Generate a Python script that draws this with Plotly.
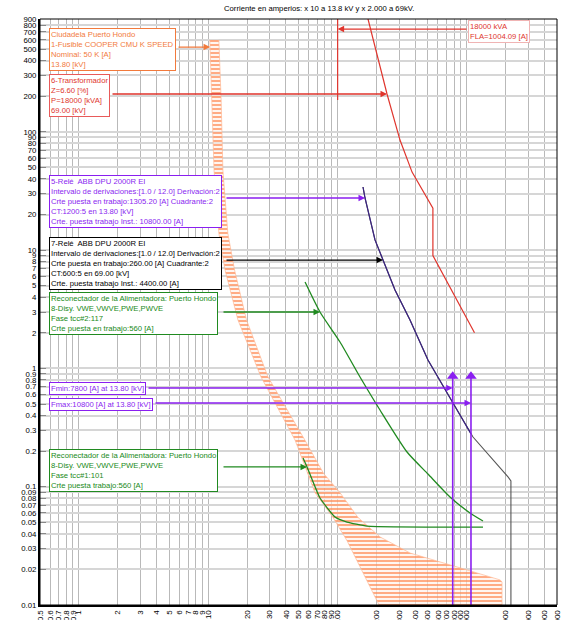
import numpy as np
import plotly.graph_objects as go

# ---- axis ticks -------------------------------------------------------
x_tick_vals = [0.5, 0.6, 0.7, 0.8, 0.9, 1, 2, 3, 4, 5, 6, 7, 8, 9,
               10, 20, 30, 40, 50, 60, 70, 80, 90,
               100, 200, 300, 400, 500, 600, 700, 800, 900,
               1000, 2000, 3000, 4000, 5000]
x_tick_text = ["0.5", "0.6", "0.7", "0.8", "0.9", "1", "2", "3", "4", "5", "6", "7", "8", "9",
               "10", "20", "30", "40", "50", "60", "70", "80", "90",
               "100", "200", "300", "400", "500", "600", "700", "800", "900",
               "1000", "2000", "3000", "4000", "5000"]
y_tick_vals = [0.01, 0.02, 0.03, 0.04, 0.05, 0.06, 0.07, 0.08, 0.09,
               0.1, 0.2, 0.3, 0.4, 0.5, 0.6, 0.7, 0.8, 0.9,
               1, 2, 3, 4, 5, 6, 7, 8, 9,
               10, 20, 30, 40, 50, 60, 70, 80, 90,
               100, 200, 300, 400, 500, 600, 700, 800, 900]
y_tick_text = ["0.01", "0.02", "0.03", "0.04", "0.05", "0.06", "0.07", "0.08", "0.09",
               "0.1", "0.2", "0.3", "0.4", "0.5", "0.6", "0.7", "0.8", "0.9",
               "1", "2", "3", "4", "5", "6", "7", "8", "9",
               "10", "20", "30", "40", "50", "60", "70", "80", "90",
               "100", "200", "300", "400", "500", "600", "700", "800", "900"]

# ---- curves (current in scaled amperes, time in seconds) --------------
transformer_i = [168, 172.5, 242, 305, 378, 520, 548, 548, 1150]
transformer_t = [1000, 900, 209, 85.3, 45.7, 25.0, 22.6, 9.0, 2.0]
transformer_fla = 1004.09 / 10

fuse_melt_i = [10.3, 10.7, 11.1, 12.1, 13.5, 17.0, 25.6, 47.0, 59.2, 67.1, 92.4, 118.7, 210]
fuse_melt_t = [600, 186, 47.5, 13.9, 6.8, 2.57, 0.85, 0.248, 0.13, 0.089, 0.055, 0.035, 0.01]
fuse_clear_i = [12.1, 12.6, 13.0, 14.2, 16.0, 19.8, 29.0, 56.0, 78.0, 104.7, 144.3, 214,
                365, 549, 1006, 1811, 1877, 1877]
fuse_clear_t = [600, 186, 47.5, 13.9, 6.8, 2.57, 0.85, 0.248, 0.13, 0.089, 0.055, 0.0376,
                0.0275, 0.024, 0.0198, 0.0163, 0.0157, 0.01]

relay5_i = [157.8, 163.5, 195.4, 225.3, 279, 364.5, 502, 784, 1080, 1080]
relay5_t = [34.2, 27.6, 12.2, 8.25, 4.6, 2.566, 1.178, 0.51, 0.28, 0.01]
relay7_i = [157.8, 163.5, 195.4, 225.3, 279, 364.5, 502, 784, 1120, 2089, 2200, 2200]
relay7_t = [34.2, 27.6, 12.2, 8.25, 4.6, 2.566, 1.178, 0.51, 0.263, 0.121, 0.112, 0.01]

recloser2_i = [56.2, 73.3, 104.7, 149.6, 213.5, 345.6, 502, 743, 1061, 1338]
recloser2_t = [5.37, 3.00, 1.672, 0.846, 0.445, 0.1965, 0.128, 0.0819, 0.060, 0.0513]
recloser1_i = [54.2, 58.2, 73.3, 95.8, 118.7, 169.4, 1338]
recloser1_t = [0.175, 0.147, 0.0803, 0.0554, 0.0503, 0.0465, 0.0456]

fault_min_i = 7800 / 10
fault_max_i = 10800 / 10
fault_marker_t = 0.86

# ---- layout geometry --------------------------------------------------
W, H = 562, 620
ML, MR, MT, MB = 40, 5, 19, 15
PW, PH = W - ML - MR, H - MT - MB
XR = [np.log10(0.5), np.log10(5000)]
YR = [np.log10(0.01), np.log10(900)]

FONT = "Liberation Sans, Arial, sans-serif"
ORANGE = "#f27a3c"
RED = "#e0352d"
PURPLE = "#8a1ff0"
NAVY = "#3b2383"
GREEN = "#208a20"


def paper_x(px):
    return (px - ML) / PW


def paper_y(py):
    return 1 - (py - MT) / PH


def log_x_at(px):
    return XR[0] + (px - ML) / PW * (XR[1] - XR[0])


def current_at(t, ivals, tvals):
    """Current where a time-current curve reaches time t (log interpolation)."""
    lt = np.log10(tvals)[::-1]
    li = np.log10(ivals)[::-1]
    return 10 ** np.interp(np.log10(t), lt, li)


fig = go.Figure()

# fuse band: minimum melt to total clearing, hatched
band_i = list(fuse_melt_i) + list(fuse_clear_i[::-1])
band_t = list(fuse_melt_t) + list(fuse_clear_t[::-1])
fig.add_trace(go.Scatter(
    x=band_i, y=band_t, mode="lines", fill="toself",
    line=dict(color="rgba(255,185,150,0.7)", width=1),
    fillcolor="rgba(255,255,255,0)",
    fillpattern=dict(shape="-", fgcolor="#ff8a55", bgcolor="rgba(255,240,232,0.6)",
                     size=4, solidity=0.35),
    hoverinfo="skip"))

# transformer damage curve and FLA marker
fig.add_trace(go.Scatter(x=transformer_i, y=transformer_t, mode="lines",
                         line=dict(color=RED, width=1.2)))
fig.add_trace(go.Scatter(x=[transformer_fla, transformer_fla], y=[900, 186], mode="lines",
                         line=dict(color=RED, width=1.2)))

# recloser curves
fig.add_trace(go.Scatter(x=recloser2_i, y=recloser2_t, mode="lines",
                         line=dict(color=GREEN, width=1.3, shape="spline", smoothing=0.6)))
fig.add_trace(go.Scatter(x=recloser1_i, y=recloser1_t, mode="lines",
                         line=dict(color=GREEN, width=1.3, shape="spline", smoothing=0.4)))

# relays
fig.add_trace(go.Scatter(x=relay7_i, y=relay7_t, mode="lines",
                         line=dict(color="#555555", width=1.1)))
fig.add_trace(go.Scatter(x=relay5_i[:-1], y=relay5_t[:-1], mode="lines",
                         line=dict(color=NAVY, width=1.2)))

# fault currents
for fi in (fault_min_i, fault_max_i):
    fig.add_trace(go.Scatter(x=[fi, fi], y=[0.01, fault_marker_t], mode="lines",
                             line=dict(color=PURPLE, width=1.6)))
    fig.add_trace(go.Scatter(x=[fi], y=[fault_marker_t], mode="markers",
                             marker=dict(symbol="triangle-up", size=10, color=PURPLE)))

# ---- label boxes ------------------------------------------------------
boxes = [
    ("Ciudadela Puerto Hondo<br>1-Fusible COOPER CMU K SPEED<br>Nominal: 50 K [A]<br>13.80 [kV]",
     ORANGE, ORANGE, 49, 28),
    ("6-Transformador<br>Z=6.60 [%]<br>P=18000 [kVA]<br>69.00 [kV]", RED, "#e85a5a", 49, 74),
    ("5-Relé  ABB DPU 2000R EI<br>Intervalo de derivaciones:[1.0 / 12.0] Derivación:2<br>"
     "Crte puesta en trabajo:1305.20 [A] Cuadrante:2<br>CT:1200:5 en 13.80 [kV]<br>"
     "Crte. puesta trabajo Inst.: 10800.00 [A]", PURPLE, PURPLE, 49, 175),
    ("7-Relé  ABB DPU 2000R EI<br>Intervalo de derivaciones:[1.0 / 12.0] Derivación:2<br>"
     "Crte puesta en trabajo:260.00 [A] Cuadrante:2<br>CT:600:5 en 69.00 [kV]<br>"
     "Crte. puesta trabajo Inst.: 4400.00 [A]", "black", "black", 49, 237),
    ("Reconectador de la Alimentadora: Puerto Hondo<br>8-Disy. VWE,VWVE,PWE,PWVE<br>"
     "Fase tcc#2:117<br>Crte puesta en trabajo:560 [A]", GREEN, GREEN, 49, 292),
    ("Fmin:7800 [A] at 13.80 [kV]", PURPLE, PURPLE, 49, 382),
    ("Fmax:10800 [A] at 13.80 [kV]", PURPLE, PURPLE, 49, 398),
    ("Reconectador de la Alimentadora: Puerto Hondo<br>8-Disy. VWE,VWVE,PWE,PWVE<br>"
     "Fase tcc#1:101<br>Crte puesta trabajo:560 [A]", GREEN, GREEN, 49, 449),
    ("18000 kVA<br>FLA=1004.09 [A]", RED, "#f0b4b4", 468, 20),
]
annotations = []
for text, color, border, px, py in boxes:
    annotations.append(dict(
        text=text, xref="paper", yref="paper", x=paper_x(px), y=paper_y(py),
        xanchor="left", yanchor="top", align="left", showarrow=False,
        font=dict(family=FONT, size=7.7, color=color),
        bgcolor="white", bordercolor=border, borderwidth=1, borderpad=1))

# arrows from the boxes to their curves: (time, head current, tail pixel, color)
arrows = [
    (521, current_at(521, fuse_melt_i, fuse_melt_t), 177, ORANGE),
    (209, current_at(209, transformer_i[1:6], transformer_t[1:6]), 111, RED),
    (27.6, current_at(27.6, relay5_i[:-2], relay5_t[:-2]), 225, PURPLE),
    (8.25, current_at(8.25, relay7_i[:-2], relay7_t[:-2]), 225, "black"),
    (3.0, current_at(3.0, recloser2_i, recloser2_t), 222, GREEN),
    (0.147, current_at(0.147, recloser1_i, recloser1_t), 222, GREEN),
    (0.683, fault_min_i, 147, PURPLE),
    (0.51, fault_max_i, 154, PURPLE),
    (740, transformer_fla, 468, RED),
]
for t, head_i, tail_px, color in arrows:
    annotations.append(dict(
        text="", x=np.log10(head_i), y=np.log10(t), xref="x", yref="y",
        ax=log_x_at(tail_px), ay=np.log10(t), axref="x", ayref="y",
        showarrow=True, arrowhead=2, arrowsize=1, arrowwidth=1.3,
        arrowcolor=color, standoff=0))

annotations.append(dict(
    text="Corriente en amperios: x 10 a 13.8 kV y x 2.000 a 69kV.",
    xref="paper", yref="paper", x=paper_x(319), y=paper_y(9),
    xanchor="center", yanchor="middle", showarrow=False,
    font=dict(family=FONT, size=7.7, color="black")))

fig.update_layout(
    width=W, height=H, margin=dict(l=ML, r=MR, t=MT, b=MB, autoexpand=False),
    template="none", showlegend=False,
    plot_bgcolor="white", paper_bgcolor="white",
    font=dict(family=FONT, size=7, color="black"),
    annotations=annotations,
    shapes=[dict(type="rect", xref="paper", yref="paper", x0=0, x1=1, y0=0, y1=1,
                 line=dict(color="black", width=1), layer="above")],
)
fig.update_xaxes(
    type="log", range=XR, tickvals=x_tick_vals, ticktext=x_tick_text,
    tickangle=-90, tickfont=dict(size=8, color="black"), ticks="",
    showgrid=True, gridcolor="#b9b9b9", gridwidth=1,
    showline=True, linecolor="black", linewidth=2, zeroline=False, automargin=False)
fig.update_yaxes(
    type="log", range=YR, tickvals=y_tick_vals, ticktext=y_tick_text,
    tickfont=dict(size=7.8, color="black"), ticks="inside", ticklen=6,
    tickcolor="#888888", tickwidth=1,
    showgrid=True, gridcolor="#d6d6d6", gridwidth=1.6,
    showline=True, linecolor="black", linewidth=2, zeroline=False, automargin=False)

fig.write_html("out.html")
